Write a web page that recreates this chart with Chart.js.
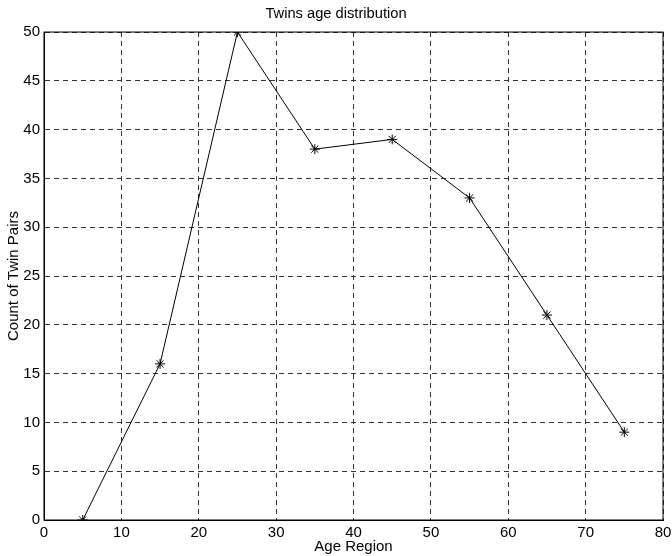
<!DOCTYPE html>
<html>
<head>
<meta charset="utf-8">
<script src="https://cdn.jsdelivr.net/npm/chart.js@4/dist/chart.umd.min.js"></script>
<style>
  html, body { margin: 0; padding: 0; background: #fff; }
  #wrap { width: 672px; height: 556px; }
</style>
</head>
<body>
<div id="wrap"><canvas id="chartTwins"></canvas></div>
<script>
// datos
const ageRegion = [5, 15, 25, 35, 45, 55, 65, 75];
const twinPairs = [0, 16, 50, 38, 39, 33, 21, 9];

// caja alrededor del area (estilo matlab)
const boxPlugin = {
  id: 'box',
  afterDraw(chart) {
    const { ctx, chartArea: a } = chart;
    ctx.save();
    ctx.strokeStyle = '#000';
    ctx.lineWidth = 1;
    ctx.strokeRect(a.left, a.top, a.right - a.left, a.bottom - a.top);
    ctx.restore();
  }
};

const fuente = 'Liberation Sans';

const ctx = document.getElementById('chartTwins').getContext('2d');
new Chart(ctx, {
  type: 'line',
  data: {
    datasets: [{
      label: 'Twins',
      data: ageRegion.map((x, i) => ({ x: x, y: twinPairs[i] })),
      borderColor: '#000',
      backgroundColor: '#000',
      borderWidth: 1,
      pointStyle: 'star',
      pointRadius: 5,
      pointBorderColor: '#000',
      pointBorderWidth: 1,
      tension: 0
    }]
  },
  plugins: [boxPlugin],
  options: {
    responsive: true,
    maintainAspectRatio: false,
    animation: false,
    layout: { padding: { left: 0, right: 0, top: 0, bottom: 0 } },
    plugins: {
      legend: { display: false },
      tooltip: { enabled: false },
      title: {
        display: true,
        text: 'Twins age distribution',
        color: '#000',
        font: { family: fuente, size: 14.7, weight: 'normal' },
        padding: { top: 5, bottom: 9.4 }
      }
    },
    scales: {
      x: {
        type: 'linear',
        min: 0,
        max: 80,
        ticks: { stepSize: 10, color: '#000', padding: 4, maxRotation: 0,
                 font: { family: fuente, size: 15 } },
        grid: { color: '#333', lineWidth: 1, drawTicks: false },
        border: { display: true, color: '#000', dash: [5, 4] },
        title: { display: true, text: 'Age Region', color: '#000', padding: 0,
                 font: { family: fuente, size: 15 } },
        afterFit(scale) {
          scale.height = 36;
          scale.paddingLeft = 0;
          scale.paddingRight = 9; // el "80" sobresale un poco
        }
      },
      y: {
        min: 0,
        max: 50,
        ticks: { stepSize: 5, color: '#000', padding: 4,
                 font: { family: fuente, size: 15 } },
        grid: { color: '#333', lineWidth: 1, drawTicks: false },
        border: { display: true, color: '#000', dash: [5, 4] },
        title: { display: true, text: 'Count of Twin Pairs', color: '#000',
                 padding: { top: 5, bottom: 0 },
                 font: { family: fuente, size: 15 } },
        afterFit(scale) { scale.width = 44; }
      }
    }
  }
});
</script>
</body>
</html>
